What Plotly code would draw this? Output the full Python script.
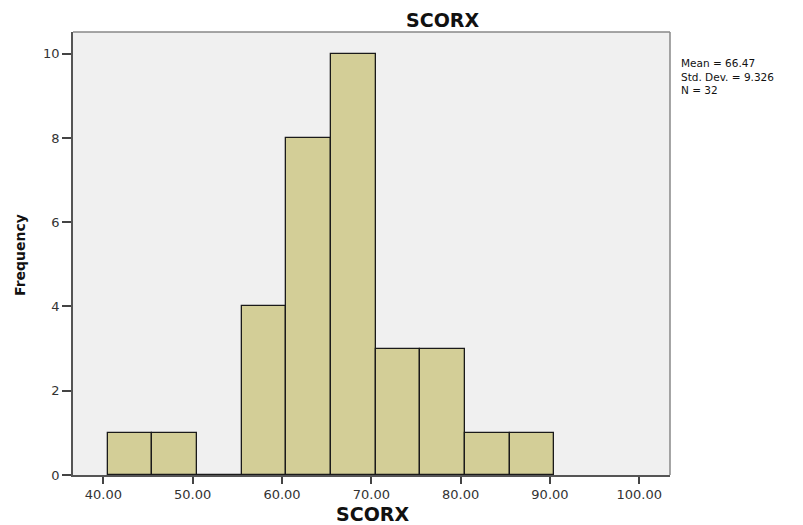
import plotly.graph_objects as go

bin_centers = [43, 48, 53, 58, 63, 68, 73, 78, 83, 88]
counts = [1, 1, 0, 4, 8, 10, 3, 3, 1, 1]
bin_width = 5
x_ticks = [40, 50, 60, 70, 80, 90, 100]
y_ticks = [0, 2, 4, 6, 8, 10]
stats_lines = ["Mean = 66.47", "Std. Dev. = 9.326", "N = 32"]

W, H = 795, 517
L, R, T, B = 65, 133, 24, 50
PW, PH = W - L - R, H - T - B

def px_x(px):
    return (px - L) / PW

def px_y(py):
    return 1 - (py - T) / PH

fig = go.Figure()
fig.add_trace(go.Bar(
    x=bin_centers, y=counts, width=bin_width,
    marker=dict(color="#d3ce97", line=dict(color="#1a1a1a", width=1.3)),
    hoverinfo="x+y",
))

font_family = "DejaVu Sans, Verdana, sans-serif"
fig.update_layout(
    width=W, height=H,
    margin=dict(l=L, r=R, t=T, b=B),
    paper_bgcolor="white", plot_bgcolor="#f0f0f0",
    showlegend=False, bargap=0,
    font=dict(family=font_family, color="#222", size=13),
)
fig.update_xaxes(
    range=[36.6, 103.44], tickvals=x_ticks, tickformat=".2f",
    showgrid=False, zeroline=False, showline=True, linecolor="#555", linewidth=1.5, mirror=False,
    ticks="outside", ticklen=7, tickwidth=1.5, tickcolor="#444",
    tickfont=dict(size=13, color="#333"),
)
fig.update_yaxes(
    range=[0, 10.515], tickvals=y_ticks,
    showgrid=False, zeroline=False, showline=True, linecolor="#555", linewidth=1.5, mirror=False,
    ticks="outside", ticklen=9, tickwidth=1.5, tickcolor="#444",
    tickfont=dict(size=13, color="#333"),
)
# frame top and right
fig.add_shape(type="line", xref="paper", yref="paper", x0=0, x1=1, y0=1, y1=1,
              line=dict(color="#888", width=1.5))
fig.add_shape(type="line", xref="paper", yref="paper", x0=1, x1=1, y0=0, y1=1,
              line=dict(color="#888", width=1.5))

# titles
fig.add_annotation(text="<b>SCORX</b>", xref="paper", yref="paper",
                   x=px_x(434.5), y=px_y(12), xanchor="center", yanchor="middle",
                   showarrow=False, font=dict(size=19, color="#111"))
fig.add_annotation(text="<b>SCORX</b>", xref="paper", yref="paper",
                   x=px_x(364.5), y=px_y(506), xanchor="center", yanchor="middle",
                   showarrow=False, font=dict(size=19, color="#111"))
fig.add_annotation(text="<b>Frequency</b>", xref="paper", yref="paper",
                   x=px_x(12), y=px_y(247), xanchor="center", yanchor="middle", textangle=-90,
                   showarrow=False, font=dict(size=14, color="#111"))

fig.add_annotation(
    text="<br>".join(stats_lines), xref="paper", yref="paper",
    x=px_x(671), y=px_y(47), xanchor="left", yanchor="top", align="left",
    showarrow=False, font=dict(size=10.5, color="#111"),
)

fig.write_html("out.html")
